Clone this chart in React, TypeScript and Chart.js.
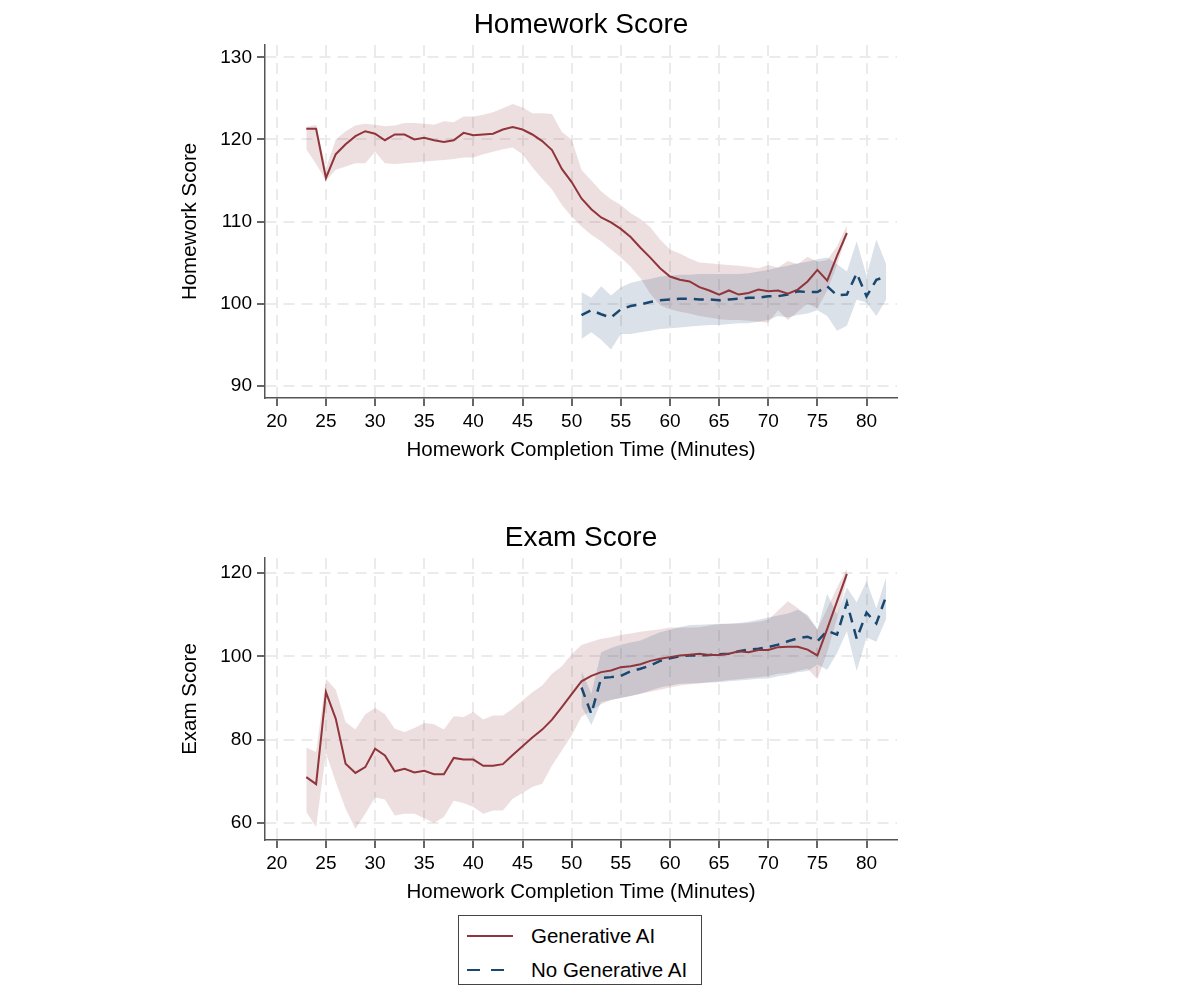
import { useEffect, useRef } from 'react'
import { Chart, registerables } from 'chart.js'

Chart.register(...registerables)
Chart.defaults.font.family = '"Liberation Sans", Arial, Helvetica, sans-serif'
Chart.defaults.color = '#000'

// minutes on the x axis for each group
const GEN_MINUTES = [
  23, 24, 25, 26, 27, 28, 29, 30, 31, 32, 33, 34, 35, 36, 37, 38, 39, 40, 41, 42,
  43, 44, 45, 46, 47, 48, 49, 50, 51, 52, 53, 54, 55, 56, 57, 58, 59, 60, 61, 62,
  63, 64, 65, 66, 67, 68, 69, 70, 71, 72, 73, 74, 75, 76, 77, 78,
]
const NOGEN_MINUTES = [
  51, 52, 53, 54, 55, 56, 57, 58, 59, 60, 61, 62, 63, 64, 65, 66, 67, 68, 69, 70,
  71, 72, 73, 74, 75, 76, 77, 78, 79, 80, 81, 82,
]
const X_TICKS = [20, 25, 30, 35, 40, 45, 50, 55, 60, 65, 70, 75, 80]

// Homework score
const HW_TICKS = [90, 100, 110, 120, 130]
const HW_GEN = [
  121.3, 121.3, 115.3, 118.2, 119.4, 120.4, 121.0, 120.7, 119.9, 120.6,
  120.6, 120.0, 120.2, 119.9, 119.7, 119.9, 120.8, 120.5, 120.6, 120.7,
  121.2, 121.5, 121.2, 120.6, 119.8, 118.7, 116.4, 114.8, 112.8, 111.5,
  110.5, 109.9, 109.1, 108.1, 106.8, 105.6, 104.3, 103.3, 102.9, 102.7,
  102.0, 101.6, 101.1, 101.6, 101.1, 101.3, 101.7, 101.5, 101.6, 101.2,
  101.7, 102.7, 104.1, 102.8, 105.8, 108.6,
]
const HW_GEN_HI = [
  121.5, 121.8, 116.5, 120.0, 121.0, 121.7, 121.9, 121.8, 121.6, 121.7,
  122.0, 122.0, 121.9, 121.8, 122.2, 122.1, 122.8, 122.8, 123.0, 123.3,
  123.8, 124.3, 123.9, 123.2, 123.2, 123.1, 120.9, 120.0, 116.3, 115.0,
  113.7, 112.7, 112.0, 111.0, 110.3, 109.3, 107.8, 106.6, 106.1, 105.5,
  105.0, 104.9, 104.8, 104.7, 104.6, 104.5, 104.3, 104.7, 104.4, 105.2,
  104.8, 105.7, 105.1, 105.3, 107.0, 109.5,
]
const HW_GEN_LO = [
  118.8, 117.0, 115.0, 116.3, 116.7, 117.1, 117.1, 118.5, 117.1, 117.0,
  117.1, 117.2, 117.3, 117.4, 117.5, 117.6, 117.8, 117.8, 118.2, 118.5,
  118.8, 119.0, 118.2, 116.6, 115.2, 113.9, 112.0, 110.6, 109.4, 108.4,
  107.6, 106.6, 105.6, 104.5, 103.1, 101.2, 99.8, 99.3, 99.0, 98.8,
  98.5, 98.3, 98.1, 98.0, 98.0, 97.9, 97.8, 97.7, 99.2, 98.0,
  99.0, 100.0, 99.4, 101.6, 104.7, 108.4,
]
const HW_NOGEN = [
  98.6, 99.2, 98.7, 98.3, 99.3, 99.7, 99.9, 100.2, 100.4, 100.5,
  100.6, 100.6, 100.5, 100.5, 100.4, 100.5, 100.6, 100.7, 100.7, 100.9,
  100.9, 101.1, 101.5, 101.4, 101.4, 102.1, 101.0, 101.1, 103.7, 100.9,
  102.9, 103.3,
]
const HW_NOGEN_HI = [
  101.4, 100.7, 102.1, 101.0, 102.0, 102.5, 102.8, 103.0, 103.3, 103.4,
  103.5, 103.5, 103.6, 103.6, 103.6, 103.6, 103.6, 103.7, 103.9, 104.1,
  104.4, 104.6, 104.9, 105.1, 105.4, 105.6, 104.8, 103.9, 107.6, 103.4,
  107.8, 104.8,
]
const HW_NOGEN_LO = [
  95.7, 96.5, 95.6, 94.4, 96.3, 96.3, 96.5, 96.7, 96.9, 97.0,
  97.1, 97.2, 97.3, 97.4, 97.4, 97.5, 97.6, 97.6, 97.8, 98.0,
  98.5, 98.3, 98.6, 98.8, 99.2, 98.5, 96.7, 97.3, 100.5, 100.1,
  98.5, 100.5,
]

// Exam score
const EX_TICKS = [60, 80, 100, 120]
const EX_GEN = [
  71.0, 69.3, 91.4, 85.0, 74.2, 72.0, 73.4, 77.8, 76.2, 72.4,
  73.0, 72.1, 72.5, 71.7, 71.7, 75.6, 75.2, 75.2, 73.7, 73.7,
  74.1, 76.3, 78.4, 80.5, 82.4, 84.8, 87.8, 90.9, 94.0, 95.3,
  96.2, 96.6, 97.4, 97.6, 98.1, 98.9, 99.4, 99.8, 100.2, 100.4,
  100.6, 100.3, 100.3, 100.6, 101.2, 101.0, 101.5, 101.5, 102.2, 102.3,
  102.3, 101.6, 100.2, 106.6, 113.2, 119.8,
]
const EX_GEN_HI = [
  78.1, 77.0, 94.6, 92.0, 84.2, 82.4, 86.1, 87.6, 86.1, 82.6,
  81.8, 82.8, 84.0, 83.7, 82.4, 85.6, 85.4, 86.6, 84.8, 85.8,
  85.8, 87.4, 89.4, 91.4, 93.0, 95.8, 97.6, 100.5, 102.7, 103.5,
  104.2, 104.6, 105.1, 105.5, 105.9, 106.2, 106.5, 106.9, 106.9, 106.9,
  107.0, 107.4, 107.7, 107.8, 107.9, 108.0, 108.3, 108.8, 111.0, 113.2,
  111.6, 109.5, 106.5, 111.5, 116.5, 121.0,
]
const EX_GEN_LO = [
  62.6, 59.0, 76.8, 69.8, 63.4, 58.6, 62.2, 66.1, 65.6, 61.8,
  62.2, 62.2, 61.1, 60.0, 61.4, 65.3, 64.8, 63.8, 62.2, 63.0,
  63.0, 65.8, 67.2, 68.6, 69.4, 73.8, 77.4, 81.0, 85.5, 87.0,
  88.5, 89.5, 90.0, 90.5, 91.0, 91.5, 92.0, 92.5, 93.0, 93.3,
  93.5, 93.8, 94.0, 94.3, 94.5, 94.8, 95.0, 95.3, 95.8, 96.0,
  96.5, 97.0, 94.5, 101.0, 109.0, 118.5,
]
const EX_NOGEN = [
  92.5, 86.2, 94.8, 95.0, 95.3, 96.4, 97.0, 97.8, 98.9, 99.5,
  100.0, 100.2, 100.2, 100.3, 100.5, 100.6, 101.2, 101.6, 101.8, 102.2,
  102.8, 103.6, 104.3, 104.7, 103.6, 106.1, 105.2, 112.9, 104.2, 110.5,
  107.9, 114.5,
]
const EX_NOGEN_HI = [
  96.5, 91.0, 101.0, 102.0, 102.8, 103.3, 103.8, 104.8, 105.8, 106.4,
  107.0, 107.5, 107.6, 107.7, 107.8, 107.8, 108.0, 108.3, 108.8, 109.3,
  109.8, 110.3, 111.2, 110.0, 106.5, 115.0, 110.0, 116.5, 113.0, 118.0,
  111.5, 119.0,
]
const EX_NOGEN_LO = [
  88.0, 83.5, 89.0, 89.5, 90.0, 90.5, 91.0, 91.8, 92.5, 93.0,
  93.4, 93.5, 93.6, 93.7, 93.8, 94.0, 94.2, 94.4, 94.6, 94.7,
  95.2, 95.6, 96.2, 96.5, 98.0, 96.8, 100.8, 106.0, 96.5, 104.5,
  103.5, 109.0,
]

const RED = '#90353B'
const BLUE = '#1A476F'
const RED_BAND = 'rgba(144,53,59,0.16)'
const BLUE_BAND = 'rgba(26,71,111,0.16)'
const GRID = '#EBEBEB'

const toXY = (xs: number[], ys: number[]) => xs.map((x, i) => ({ x, y: ys[i] }))

type PanelProps = {
  title: string
  yTitle: string
  yMin: number
  yMax: number
  yTicks: number[]
  gen: number[]; genHi: number[]; genLo: number[]
  nogen: number[]; nogenHi: number[]; nogenLo: number[]
  top: number
  height: number
  titlePadTop: number
  titlePadBottom: number
}

function Panel(p: PanelProps) {
  const canvasRef = useRef<HTMLCanvasElement>(null)

  useEffect(() => {
    if (!canvasRef.current) return
    const band = (xs: number[], ys: number[], fill: any, color: string, order: number) => ({
      data: toXY(xs, ys),
      borderWidth: 0,
      borderColor: 'transparent',
      backgroundColor: color,
      pointRadius: 0,
      fill,
      order,
    })
    const gridOpts = {
      color: GRID,
      lineWidth: 2,
      tickColor: '#333',
      tickWidth: 1.5,
      tickLength: 8,
      tickBorderDash: [],
    }
    const borderOpts = { display: true, color: '#555', width: 1.5, dash: [11, 7] }

    const chart = new Chart(canvasRef.current, {
      type: 'line',
      data: {
        datasets: [
          band(GEN_MINUTES, p.genLo, false, 'transparent', 2),
          band(GEN_MINUTES, p.genHi, '-1', RED_BAND, 2),
          band(NOGEN_MINUTES, p.nogenLo, false, 'transparent', 1),
          band(NOGEN_MINUTES, p.nogenHi, '-1', BLUE_BAND, 1),
          {
            data: toXY(GEN_MINUTES, p.gen),
            borderColor: RED,
            borderWidth: 2,
            pointRadius: 0,
            fill: false,
            tension: 0,
            order: 0,
          },
          {
            data: toXY(NOGEN_MINUTES, p.nogen),
            borderColor: BLUE,
            borderWidth: 2.5,
            borderDash: [10, 7],
            pointRadius: 0,
            fill: false,
            tension: 0,
            order: 0,
          },
        ],
      },
      options: {
        responsive: false,
        animation: false,
        events: [],
        layout: { padding: { left: 170, right: 283, top: 0, bottom: 0 } },
        plugins: {
          legend: { display: false },
          tooltip: { enabled: false },
          title: {
            display: true,
            text: p.title,
            fullSize: false,
            color: '#000',
            font: { size: 28, weight: 'normal' },
            padding: { top: p.titlePadTop, bottom: p.titlePadBottom },
          },
        },
        scales: {
          x: {
            type: 'linear',
            min: 18.8,
            max: 83.1,
            afterBuildTicks: (s: any) => { s.ticks = X_TICKS.map(v => ({ value: v })) },
            afterFit: (s: any) => { s.height = 72 },
            ticks: { font: { size: 19 }, padding: 4, color: '#000', maxRotation: 0, autoSkip: false },
            grid: gridOpts,
            border: borderOpts,
            title: {
              display: true,
              text: 'Homework Completion Time (Minutes)',
              color: '#000',
              font: { size: 20.5 },
              padding: { top: 0, bottom: 7.7 },
            },
          },
          y: {
            type: 'linear',
            min: p.yMin,
            max: p.yMax,
            afterBuildTicks: (s: any) => { s.ticks = p.yTicks.map(v => ({ value: v })) },
            afterFit: (s: any) => { s.width = 95 },
            ticks: { font: { size: 19 }, padding: 5, color: '#000' },
            grid: gridOpts,
            border: borderOpts,
            title: {
              display: true,
              text: p.yTitle,
              color: '#000',
              font: { size: 20.5 },
              padding: { top: 7.7, bottom: 0 },
            },
          },
        },
      },
    } as any)

    return () => { chart.destroy() }
  }, [])

  return (
    <canvas
      ref={canvasRef}
      width={1180}
      height={p.height}
      style={{ position: 'absolute', left: 0, top: p.top, width: 1180, height: p.height }}
    />
  )
}

function Legend() {
  const row = (top: number, color: string, dash: string, label: string) => (
    <div style={{ position: 'absolute', left: 0, top, height: 30, width: '100%' }}>
      <svg width={60} height={30} style={{ position: 'absolute', left: 0, top: 0 }}>
        <line x1={8} y1={15} x2={54} y2={15} stroke={color} strokeWidth={2.2} strokeDasharray={dash} />
      </svg>
      <span style={{ position: 'absolute', left: 72, top: 3, fontSize: 20.5, lineHeight: '24px', color: '#000' }}>
        {label}
      </span>
    </div>
  )
  return (
    <div
      style={{
        position: 'absolute', left: 458, top: 915, width: 244, height: 70,
        border: '1px solid #444', boxSizing: 'border-box',
        fontFamily: '"Liberation Sans", Arial, Helvetica, sans-serif',
        background: '#fff',
      }}
    >
      {row(5, RED, 'none', 'Generative AI')}
      {row(39, BLUE, '13 11', 'No Generative AI')}
    </div>
  )
}

export default function App() {
  return (
    <div style={{ position: 'absolute', left: 0, top: 0, width: 1180, height: 1006, background: '#fff', overflow: 'hidden' }}>
      <Panel
        title="Homework Score"
        yTitle="Homework Score"
        yMin={88.5}
        yMax={131.5}
        yTicks={HW_TICKS}
        gen={HW_GEN} genHi={HW_GEN_HI} genLo={HW_GEN_LO}
        nogen={HW_NOGEN} nogenHi={HW_NOGEN_HI} nogenLo={HW_NOGEN_LO}
        top={0}
        height={470}
        titlePadTop={8.2}
        titlePadBottom={3.2}
      />
      <Panel
        title="Exam Score"
        yTitle="Exam Score"
        yMin={55.9}
        yMax={123.6}
        yTicks={EX_TICKS}
        gen={EX_GEN} genHi={EX_GEN_HI} genLo={EX_GEN_LO}
        nogen={EX_NOGEN} nogenHi={EX_NOGEN_HI} nogenLo={EX_NOGEN_LO}
        top={490}
        height={422}
        titlePadTop={31.2}
        titlePadBottom={3.2}
      />
      <Legend />
    </div>
  )
}
